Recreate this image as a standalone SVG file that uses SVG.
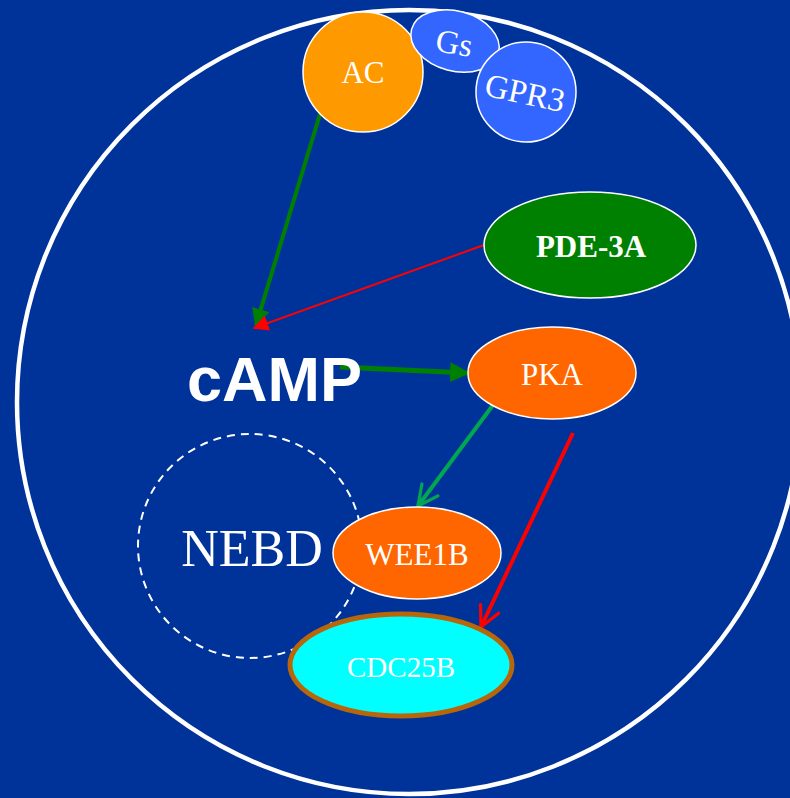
<svg xmlns="http://www.w3.org/2000/svg" width="790" height="798" viewBox="0 0 790 798">
  <style>
    .lbl { fill: #ffffff; font-family: "Liberation Serif", "Times New Roman", serif; text-anchor: middle; }
    .node { stroke: #ffffff; stroke-width: 1.5; }
  </style>
  <defs>
    <marker id="headGreen" viewBox="0 0 10 10" refX="9" refY="5" markerWidth="4" markerHeight="4" orient="auto" markerUnits="strokeWidth">
      <path d="M0,0 L10,5 L0,10 z" fill="#008000"/>
    </marker>
    <marker id="headGreenBig" viewBox="0 0 10 10" refX="9" refY="5" markerWidth="4.5" markerHeight="4.5" orient="auto" markerUnits="strokeWidth">
      <path d="M0,0 L10,5 L0,10 z" fill="#008000"/>
    </marker>
    <marker id="headRedSmall" viewBox="0 0 10 10" refX="9" refY="5" markerWidth="8" markerHeight="8" orient="auto" markerUnits="strokeWidth">
      <path d="M0,0 L10,5 L0,10 z" fill="#ff0000"/>
    </marker>
    <marker id="openGreen" viewBox="0 0 12 12" refX="11" refY="6" markerWidth="6" markerHeight="6" orient="auto" markerUnits="strokeWidth">
      <path d="M1,1 L11,6 L1,11" fill="none" stroke="#00a650" stroke-width="1.6" stroke-linecap="round" stroke-linejoin="round"/>
    </marker>
    <marker id="openRed" viewBox="0 0 12 12" refX="11" refY="6" markerWidth="6" markerHeight="6" orient="auto" markerUnits="strokeWidth">
      <path d="M1,1 L11,6 L1,11" fill="none" stroke="#ff0000" stroke-width="1.6" stroke-linecap="round" stroke-linejoin="round"/>
    </marker>
  </defs>

  <rect x="0" y="0" width="790" height="798" fill="#003399"/>

  <!-- cell boundary -->
  <circle id="cell" cx="409" cy="402" r="392" fill="none" stroke="#ffffff" stroke-width="4.5"/>

  <!-- nucleus envelope region -->
  <g id="nebd">
    <circle cx="250" cy="546" r="112" fill="none" stroke="#ffffff" stroke-width="2" stroke-dasharray="8,6"/>
    <text class="lbl" x="252" y="566" font-size="52">NEBD</text>
  </g>

  <g id="connectors">
    <line x1="320" y1="114" x2="256" y2="325" stroke="#008000" stroke-width="4" marker-end="url(#headGreenBig)"/>
    <line x1="484" y1="245" x2="254" y2="328" stroke="#ff0000" stroke-width="2" marker-end="url(#headRedSmall)"/>
    <line x1="340" y1="367" x2="468" y2="373" stroke="#008000" stroke-width="5" marker-end="url(#headGreen)"/>
    <line x1="493" y1="405" x2="418" y2="506" stroke="#00a650" stroke-width="4" marker-end="url(#openGreen)"/>
    <line x1="573" y1="433" x2="481" y2="627" stroke="#ff0000" stroke-width="4" marker-end="url(#openRed)"/>
  </g>

  <g id="ac">
    <circle class="node" cx="363" cy="72" r="60" fill="#ff9900"/>
    <text class="lbl" x="363" y="83" font-size="31">AC</text>
  </g>

  <g id="gs">
    <ellipse class="node" cx="455" cy="41" rx="45" ry="30" transform="rotate(15 455 41)" fill="#3366ff"/>
    <text class="lbl" x="454" y="54" font-size="33" transform="rotate(10 454 44)">Gs</text>
  </g>

  <g id="gpr3">
    <circle class="node" cx="526" cy="92" r="50" fill="#3366ff"/>
    <text class="lbl" x="525" y="104" font-size="33" transform="rotate(12 525 93)">GPR3</text>
  </g>

  <g id="pde3a">
    <ellipse class="node" cx="590" cy="245" rx="106" ry="53" fill="#008000"/>
    <text class="lbl" x="591" y="257" font-size="31" font-weight="bold">PDE-3A</text>
  </g>

  <g id="camp">
    <text x="187" y="401" font-size="63" font-weight="bold" fill="#ffffff" font-family="'Liberation Sans', Arial, sans-serif">cAMP</text>
  </g>

  <g id="pka">
    <ellipse class="node" cx="552" cy="373" rx="84" ry="46" fill="#ff6600"/>
    <text class="lbl" x="552" y="385" font-size="31">PKA</text>
  </g>

  <g id="wee1b">
    <ellipse class="node" cx="417" cy="553" rx="84" ry="46" fill="#ff6600"/>
    <text class="lbl" x="417" y="565" font-size="31">WEE1B</text>
  </g>

  <g id="cdc25b">
    <ellipse cx="401" cy="665" rx="111" ry="51" fill="#00ffff" stroke="#b8660a" stroke-width="5"/>
    <text class="lbl" x="401" y="677" font-size="29">CDC25B</text>
  </g>
</svg>
